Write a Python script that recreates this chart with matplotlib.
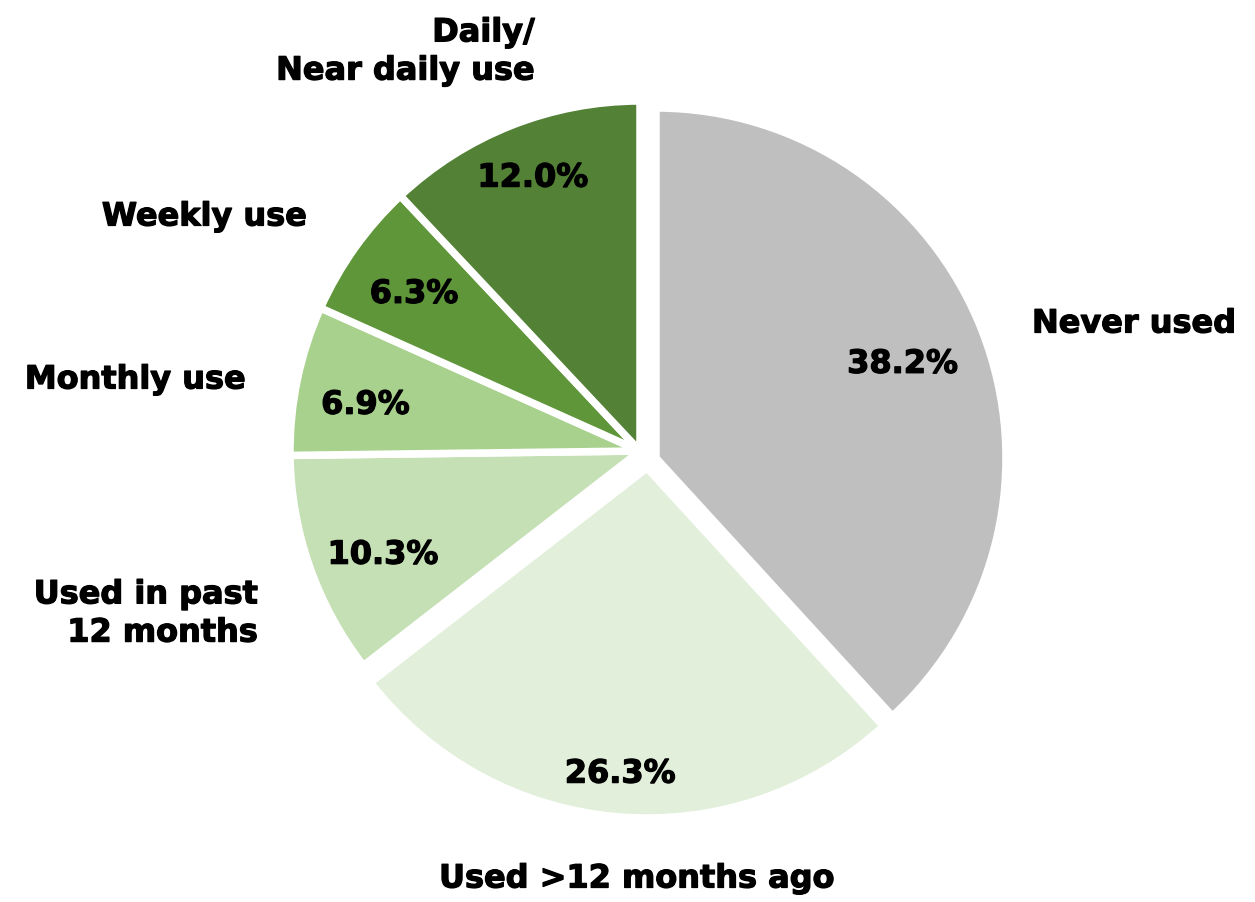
import matplotlib
matplotlib.use("Agg")
import matplotlib.pyplot as plt
import matplotlib.patheffects as pe
import numpy as np

# Frequency of use categories, clockwise from 12 o'clock
categories = ["Never used", "Used >12 months ago", "Used in past\n12 months",
              "Monthly use", "Weekly use", "Daily/\nNear daily use"]
shares = [38.2, 26.3, 10.3, 6.9, 6.3, 12.0]
colors = ["#BFBFBF", "#E2EFDA", "#C5E0B4", "#A9D18E", "#5F9639", "#538135"]

W, H = 1255, 903
fig = plt.figure(figsize=(W / 100, H / 100), dpi=100)
ax = fig.add_axes([0, 0, 1, 1])

center = (640, H - 452)
radius = 350
wedges, _ = ax.pie(shares, colors=colors, startangle=90, counterclock=False,
                   center=center, radius=radius, frame=True,
                   wedgeprops=dict(edgecolor="white", linewidth=5.4))
ax.set_xlim(0, W)
ax.set_ylim(0, H)
ax.set_aspect("equal")
ax.axis("off")

# pulled-out slices
offsets = [(16, -7), (7, -17), (0, 0), (0, 0), (0, 0), (0, 0)]
for w, (dx, dy) in zip(wedges, offsets):
    cx, cy = w.center
    w.set_center((cx + dx, cy + dy))

fs = 23
cap_px = 0.73 * fs / 0.72  # cap/digit height in pixels
font = dict(family="DejaVu Sans", fontweight="bold", color="black",
            path_effects=[pe.withStroke(linewidth=0.9, foreground="black")])

# percentage labels inside each slice (digits centred on the point)
pct_dist = [0.757, 0.869, 0.789, 0.797, 0.791, 0.846]
pct_turn = [0.2, -0.2, 2.2, 1.6, 0.2, -0.4]  # degrees off the mid-angle
for w, v, d, t in zip(wedges, shares, pct_dist, pct_turn):
    mid = np.deg2rad((w.theta1 + w.theta2) / 2 + t)
    cx, cy = w.center
    x = cx + d * w.r * np.cos(mid)
    y = cy + d * w.r * np.sin(mid)
    ax.text(x, y - cap_px / 2, f"{v:.1f}%", ha="center", va="baseline",
            fontsize=fs, **font)

# category labels around the pie
label_pos = [(1032, 325, "left"), (637, 880, "center"), (258, 615, "right"),
             (246, 381, "right"), (307, 218, "right"), (535, 53, "right")]
for name, (x, y, ha) in zip(categories, label_pos):
    ax.text(x, H - y, name, ha=ha, va="center", multialignment=ha,
            fontsize=fs, linespacing=1.3, **font)

fig.savefig("out.png", dpi=100, facecolor="white")
